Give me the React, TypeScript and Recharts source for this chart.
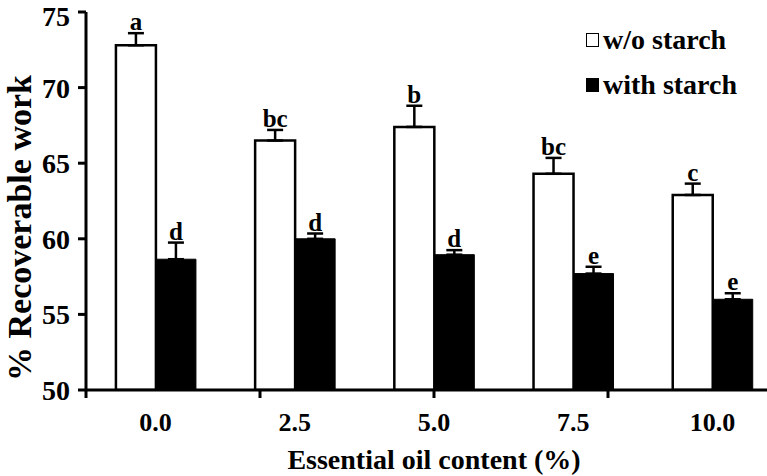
import React from 'react'
import { Bar, BarChart, ErrorBar, LabelList, Legend, XAxis, YAxis, Label } from 'recharts'

const categories = ['0.0', '2.5', '5.0', '7.5', '10.0']
const withoutStarch = [72.8, 66.5, 67.4, 64.3, 62.9]
const withoutStarchErr = [0.8, 0.7, 1.4, 1.05, 0.75]
const withoutLetters = ['a', 'bc', 'b', 'bc', 'c']
const withStarch = [58.65, 60.0, 58.95, 57.7, 56.0]
const withStarchErr = [1.1, 0.35, 0.3, 0.45, 0.4]
const withLetters = ['d', 'd', 'd', 'e', 'e']
const yTicks = [50, 55, 60, 65, 70, 75]
const boundaryTicks = [0, 1, 2, 3, 4, 5]

const FONT = "'Liberation Serif', 'Times New Roman', serif"
const Y_MIN = 50

const data = categories.map((cat, i) => ({
  cat,
  wo: withoutStarch[i],
  woErr: [0, withoutStarchErr[i]],
  woLetter: withoutLetters[i],
  ws: withStarch[i],
  wsErr: [0, withStarchErr[i]],
  wsLetter: withLetters[i],
}))

// letter above the error bar; pixel size of the error taken from the bar's own height
const letterRenderer = (values: number[], errs: number[]) => (props: any) => {
  const { x, y, width, height, value, index } = props
  const pxPerUnit = height / (values[index] - Y_MIN)
  const top = y - errs[index] * pxPerUnit
  return (
    <text
      x={x + width / 2}
      y={top - 3}
      textAnchor="middle"
      fontFamily={FONT}
      fontWeight="bold"
      fontSize={25}
      fill="#000"
    >
      {value}
    </text>
  )
}

const legendItems = [
  { label: 'w/o starch', color: '#fff' },
  { label: 'with starch', color: '#000' },
]

const renderLegend = () => (
  <div style={{ fontFamily: FONT, fontWeight: 'bold', fontSize: 28, color: '#000' }}>
    {legendItems.map((item) => (
      <div key={item.label} style={{ display: 'flex', alignItems: 'center', height: 45, whiteSpace: 'nowrap' }}>
        <span
          style={{
            display: 'inline-block',
            width: 11,
            height: 12,
            border: '1.5px solid #000',
            background: item.color,
            marginRight: 4,
          }}
        />
        {item.label}
      </div>
    ))}
  </div>
)

const renderNothing = () => <g />

const renderYLabel = (props: any) => {
  const { viewBox } = props
  const cx = viewBox.x + 19
  const cy = viewBox.y + viewBox.height / 2 + 27
  return (
    <text
      x={cx}
      y={cy}
      transform={`rotate(-90, ${cx}, ${cy})`}
      textAnchor="middle"
      dominantBaseline="central"
      fontFamily={FONT}
      fontWeight="bold"
      fontSize={34}
      fill="#000"
    >
      % Recoverable work
    </text>
  )
}

const xTickStyle = { fontFamily: FONT, fontWeight: 'bold', fontSize: 26, fill: '#000' }
const yTickStyle = { fontFamily: FONT, fontWeight: 'bold', fontSize: 28, fill: '#000' }

export default function App() {
  return (
    <div style={{ position: 'absolute', left: 0, top: 0, width: 767, height: 476, overflow: 'hidden', background: '#fff' }}>
      <BarChart
        width={782}
        height={476}
        data={data}
        margin={{ top: 12, right: 0, left: 0, bottom: 0 }}
        barCategoryGap="21.5%"
        barGap={0}
      >
        <XAxis
          xAxisId="bound"
          type="number"
          domain={[0, 5]}
          ticks={boundaryTicks}
          tick={renderNothing}
          tickSize={8}
          height={1}
          axisLine={{ stroke: '#000', strokeWidth: 3 }}
          tickLine={{ stroke: '#000', strokeWidth: 3 }}
        />
        <XAxis
          xAxisId="cat"
          dataKey="cat"
          axisLine={false}
          tickLine={false}
          tick={xTickStyle}
          tickMargin={16}
          height={85}
        >
          <Label
            value="Essential oil content (%)"
            position="insideBottom"
            offset={7}
            style={{ fontFamily: FONT, fontWeight: 'bold', fontSize: 28, fill: '#000' }}
          />
        </XAxis>
        <YAxis
          domain={[50, 75]}
          ticks={yTicks}
          width={86}
          tickSize={8}
          tickMargin={8}
          tick={yTickStyle}
          axisLine={{ stroke: '#000', strokeWidth: 3 }}
          tickLine={{ stroke: '#000', strokeWidth: 3 }}
          allowDataOverflow
        >
          <Label content={renderYLabel} />
        </YAxis>
        <Legend
          content={renderLegend}
          layout="vertical"
          align="center"
          verticalAlign="middle"
          wrapperStyle={{ top: 17, left: 586, width: 180 }}
        />
        <Bar xAxisId="cat" dataKey="wo" fill="#fff" stroke="#000" strokeWidth={2.5} isAnimationActive={false}>
          <ErrorBar dataKey="woErr" width={8} stroke="#000" strokeWidth={2.5} isAnimationActive={false} />
          <LabelList dataKey="woLetter" content={letterRenderer(withoutStarch, withoutStarchErr)} />
        </Bar>
        <Bar xAxisId="cat" dataKey="ws" fill="#000" stroke="#000" strokeWidth={1} isAnimationActive={false}>
          <ErrorBar dataKey="wsErr" width={8} stroke="#000" strokeWidth={2.5} isAnimationActive={false} />
          <LabelList dataKey="wsLetter" content={letterRenderer(withStarch, withStarchErr)} />
        </Bar>
      </BarChart>
    </div>
  )
}
